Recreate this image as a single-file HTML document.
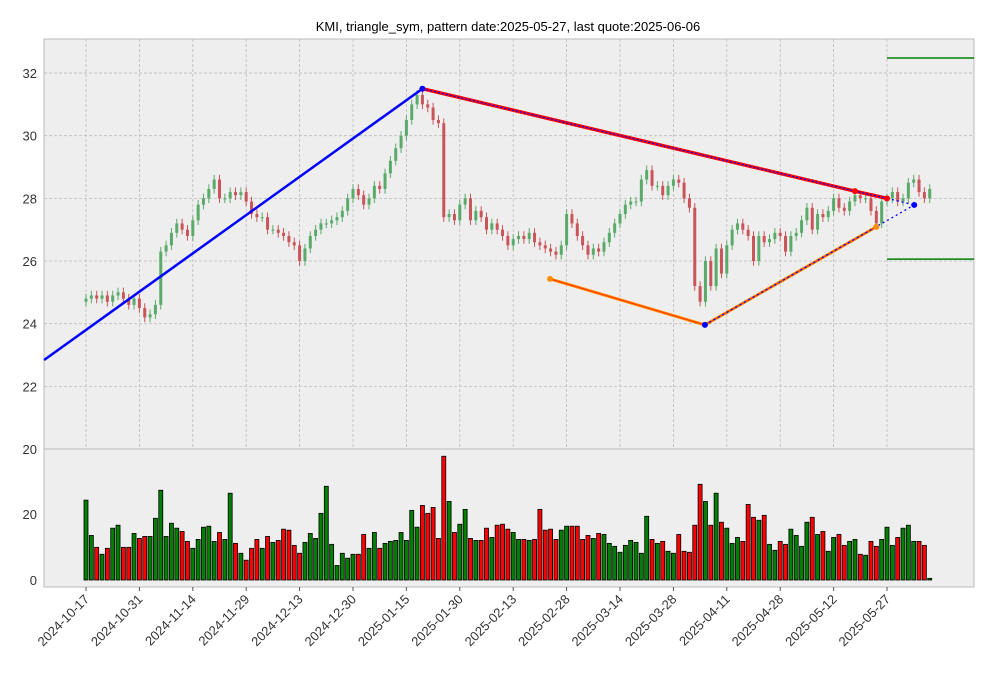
<!DOCTYPE html>
<html><head><meta charset="utf-8"><style>
body{margin:0;background:#fff;}
svg{display:block;font-family:"Liberation Sans","DejaVu Sans",sans-serif;}
</style></head><body>
<svg id="chart" width="993" height="678" viewBox="0 0 993 678">
<text x="508" y="31" text-anchor="middle" font-size="13" fill="#000">KMI, triangle_sym, pattern date:2025-05-27, last quote:2025-06-06</text>
<rect x="44" y="39" width="930" height="410" fill="#eeeeee" stroke="#bbbbbb"/>
<rect x="44" y="449" width="930" height="138" fill="#eeeeee" stroke="#bbbbbb"/>
<g id="grid"></g><g id="candles"></g><g id="vols"></g><g id="pattern"></g><g id="axes"></g>
</svg>
<script>
const xTickLabels=["2024-10-17","2024-10-31","2024-11-14","2024-11-29","2024-12-13","2024-12-30","2025-01-15","2025-01-30","2025-02-13","2025-02-28","2025-03-14","2025-03-28","2025-04-11","2025-04-28","2025-05-12","2025-05-27"];
const priceTicks=[20,22,24,26,28,30,32];
const volTicks=[0,20];
const closes=[24.8,24.9,24.8,24.9,24.7,24.9,25.0,24.8,24.6,24.8,24.5,24.2,24.3,24.6,26.3,26.5,26.9,27.2,27.0,26.8,27.3,27.8,28.0,28.3,28.6,28.0,28.0,28.2,28.1,28.2,27.9,27.5,27.4,27.4,27.0,27.0,26.9,26.8,26.6,26.5,26.0,26.4,26.8,27.0,27.2,27.2,27.3,27.4,27.6,28.0,28.3,28.1,27.8,28.0,28.4,28.3,28.8,29.2,29.6,30.0,30.5,31.0,31.3,31.0,30.9,30.5,30.4,27.4,27.5,27.3,27.8,28.0,27.3,27.6,27.4,27.0,27.2,27.0,26.8,26.5,26.7,26.8,26.7,26.9,26.6,26.5,26.4,26.3,26.2,26.5,27.5,27.2,26.8,26.5,26.2,26.4,26.3,26.6,26.9,27.2,27.5,27.8,27.9,27.9,28.6,28.9,28.4,28.4,28.1,28.4,28.6,28.5,28.0,27.7,25.2,24.7,26.0,25.2,26.4,25.6,26.5,27.0,27.2,27.0,26.8,26.0,26.8,26.6,26.7,26.9,26.8,26.3,26.8,26.9,27.3,27.7,27.0,27.5,27.4,27.6,28.0,27.7,27.6,27.9,28.1,28.0,28.0,27.6,27.2,27.9,28.0,28.2,27.9,28.0,28.5,28.6,28.2,28.0,28.3];
const volumes=[24.2,13.5,9.9,7.8,9.6,15.7,16.6,9.9,9.9,14.1,12.6,13.2,13.2,18.7,27.2,13.2,17.2,15.7,14.7,11.7,9.6,12.3,16.0,16.3,11.7,14.4,12.3,26.3,11.1,8.1,6.0,9.6,12.3,9.6,13.2,11.4,12.0,15.4,15.1,10.5,8.1,11.4,14.1,12.6,20.2,28.4,10.8,4.4,8.1,6.6,7.8,7.8,13.8,9.6,14.4,9.6,11.1,11.7,12.0,14.4,12.0,21.1,16.0,22.6,20.2,22.0,12.6,37.5,23.8,14.4,16.9,21.4,12.6,12.0,12.0,15.7,12.9,16.6,16.9,15.4,14.4,12.3,12.3,12.0,12.3,21.4,15.1,15.4,12.3,15.1,16.3,16.3,16.3,12.3,13.5,12.6,14.1,13.8,11.1,10.2,8.4,10.5,12.0,11.4,8.1,19.3,12.3,11.1,11.7,8.7,8.1,13.8,8.7,8.4,16.6,29.0,23.8,16.6,26.3,17.5,15.7,11.1,12.9,11.7,22.9,19.0,18.1,19.6,10.8,9.0,11.7,10.8,15.4,13.5,10.2,17.5,19.0,13.8,14.7,8.7,12.9,13.8,10.5,11.7,12.3,7.8,7.5,11.7,10.2,12.3,16.0,10.5,12.9,15.7,16.6,11.7,11.7,10.5,0.5];
const upperLine=[[63,31.5],[144,28.23],[150,28.0]];
const lowerLine=[[86.9,25.43],[115.9,23.96],[148,27.09]];
const peakLine=[[-7.85,22.84],[63,31.5]];
const projUpper=[[150,28.0],[155.1,27.79]];
const projLower=[[115.9,23.96],[155.1,27.79]];
const levels=[32.48,26.06];

const NS="http://www.w3.org/2000/svg";
const X=i=>86+i*5.34;
const Y=p=>449-(p-20)*31.33;
const VY=v=>580-v*3.3;
function mk(par,tag,at){const e=document.createElementNS(NS,tag);for(const k in at)e.setAttribute(k,at[k]);document.getElementById(par).appendChild(e);return e;}
// grid
priceTicks.forEach(p=>{if(p>20){const g=mk('grid','line',{x1:44,x2:974,y1:Y(p),y2:Y(p),stroke:'#bbb','stroke-dasharray':'3,2','stroke-width':0.8});

}
const t=mk('axes','text',{x:37,y:Y(p)+5,'text-anchor':'end','font-size':13,fill:'#333'});t.textContent=p;

});
volTicks.forEach(v=>{const t=mk('axes','text',{x:37,y:VY(v)+5,'text-anchor':'end','font-size':13,fill:'#333'});t.textContent=v;

});
xTickLabels.forEach((l,k)=>{const x=X(k*10);
const g=mk('grid','line',{x1:x,x2:x,y1:39,y2:449,stroke:'#bbb','stroke-dasharray':'3,2','stroke-width':0.8});


mk('axes','line',{x1:x,x2:x,y1:587,y2:591,stroke:'#555'});
const t=mk('axes','text',{x:0,y:0,'text-anchor':'end','font-size':13,fill:'#333',transform:`translate(${x+4},${600}) rotate(-45)`});t.textContent=l;

});
// candles and volume
closes.forEach((c,i)=>{const o=i>0?closes[i-1]:c-0.1;const up=c>=o;const col=up?'#5aaa6a':'#c9545a';
const hi=Math.max(o,c)+0.15, lo=Math.min(o,c)-0.15;
const w=mk('candles','line',{x1:X(i),x2:X(i),y1:Y(hi),y2:Y(lo),stroke:col,'stroke-width':1});


const b=mk('candles','rect',{x:X(i)-1.5,y:Y(Math.max(o,c)),width:3,height:Math.max(1,Math.abs(Y(o)-Y(c))),fill:col});


const v=volumes[i];
const r=mk('vols','rect',{x:X(i)-2,y:VY(v),width:4,height:v*3.3,fill:up?'#008000':'#ff0000',stroke:'#000','stroke-width':0.8});

});
function pts(a){return a.map(p=>X(p[0])+','+Y(p[1])).join(' ');}
function pl(a,at,name){const e=mk('pattern','polyline',Object.assign({points:pts(a),fill:'none'},at));

}
pl(peakLine,{stroke:'#0000ff','stroke-width':2.5},'peak-line');
pl(upperLine,{stroke:'#ff0000','stroke-width':3.5},'upper-trendline');
pl(upperLine,{stroke:'#0000ff','stroke-width':1.2,'stroke-dasharray':'2,2'},'upper-trendline-overlay');
pl(lowerLine,{stroke:'#ff8c00','stroke-width':3},'lower-trendline');
pl(lowerLine,{stroke:'#ff3300','stroke-width':1},'lower-trendline-core');
pl(projUpper,{stroke:'#0000ff','stroke-width':1.3,'stroke-dasharray':'2,3'},'upper-projection');
pl(projLower,{stroke:'#0000ff','stroke-width':1.3,'stroke-dasharray':'2,3'},'lower-projection');
levels.forEach(l=>{const e=mk('pattern','line',{x1:887,x2:974,y1:Y(l),y2:Y(l),stroke:'#008000','stroke-width':1.5});

});
function dot(p,col,name){const e=mk('pattern','circle',{cx:X(p[0]),cy:Y(p[1]),r:3,fill:col});

}
dot(peakLine[1],'#0000ff','peak-point');
dot(upperLine[1],'#ff0000','upper-touch-point');
dot(upperLine[2],'#ff0000','upper-end-point');
dot(lowerLine[0],'#ff8c00','lower-start-point');
dot(lowerLine[1],'#0000ff','low-point');
dot(lowerLine[2],'#ff8c00','lower-end-point');
dot(projLower[1],'#0000ff','apex-point');
</script>
</body></html>
